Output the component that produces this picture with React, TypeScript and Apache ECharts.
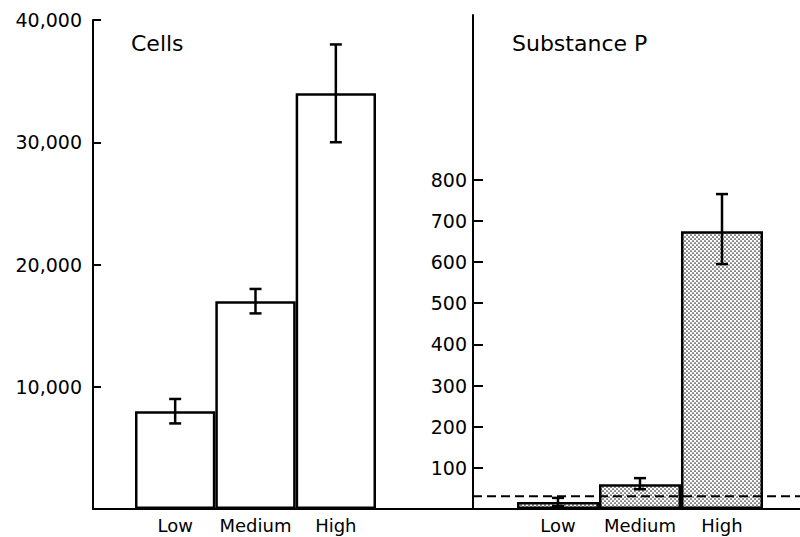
import React, { useEffect, useRef } from "react";
import * as echarts from "echarts";

const categories = ["Low", "Medium", "High"];
const cellsMean = [8000, 17000, 34000];
const cellsLow = [7000, 16000, 30000];
const cellsHigh = [9000, 18000, 38000];
const spMean = [17, 60, 675];
const spLow = [7, 48, 595];
const spHigh = [27, 75, 765];
const spThreshold = 31;
const cellsTicks = [10000, 20000, 30000, 40000];
const spTicks = [100, 200, 300, 400, 500, 600, 700, 800];
const titles = ["Cells", "Substance P"];

const FONT = "DejaVu Sans";

function makePattern() {
  const c = document.createElement("canvas");
  c.width = 4;
  c.height = 4;
  const ctx = c.getContext("2d")!;
  ctx.fillStyle = "#ffffff";
  ctx.fillRect(0, 0, 4, 4);
  ctx.fillStyle = "#2a2a2a";
  ctx.beginPath();
  ctx.arc(1, 1, 0.85, 0, Math.PI * 2);
  ctx.fill();
  ctx.beginPath();
  ctx.arc(3, 3, 0.85, 0, Math.PI * 2);
  ctx.fill();
  return { image: c, repeat: "repeat", imageWidth: 4, imageHeight: 4 } as any;
}

function errorRender(params: any, api: any) {
  const x = api.value(0);
  const lo = api.coord([x, api.value(1)]);
  const hi = api.coord([x, api.value(2)]);
  const w = 6;
  const st = { stroke: "#000", lineWidth: 2.5 };
  return {
    type: "group",
    children: [
      { type: "line", shape: { x1: lo[0], y1: lo[1], x2: hi[0], y2: hi[1] }, style: st },
      { type: "line", shape: { x1: lo[0] - w, y1: lo[1], x2: lo[0] + w, y2: lo[1] }, style: st },
      { type: "line", shape: { x1: hi[0] - w, y1: hi[1], x2: hi[0] + w, y2: hi[1] }, style: st },
    ],
  };
}

export default function App() {
  const ref = useRef<HTMLDivElement>(null);
  useEffect(() => {
    if (!ref.current) return;
    const chart = echarts.init(ref.current, null, { renderer: "svg" });
    const pattern = makePattern();
    const labelStyle = { color: "#000", fontFamily: FONT, fontSize: 18 };
    const titleStyle = { fontFamily: FONT, fontSize: 22, fontWeight: "normal", color: "#000" };
    chart.setOption({
      animation: false,
      backgroundColor: "#fff",
      title: [
        { text: titles[0], left: 126, top: 27, textStyle: titleStyle },
        { text: titles[1], left: 507, top: 27, textStyle: titleStyle },
      ],
      grid: [
        { left: 93, right: 0, top: 20, height: 489 },
        { left: 135, width: 241, top: 20, height: 489 },
        { left: 517, width: 246, top: 15, height: 494 },
        { left: 473, right: 0, top: 15, height: 494 },
      ],
      xAxis: [
        { gridIndex: 0, type: "value", min: 0, max: 1, axisLine: { show: true, lineStyle: { color: "#000", width: 2 } }, axisTick: { show: false }, axisLabel: { show: false }, splitLine: { show: false } },
        { gridIndex: 1, type: "category", data: categories, axisLine: { show: false }, axisTick: { show: false }, axisLabel: { ...labelStyle, margin: 7, interval: 0 } },
        { gridIndex: 2, type: "category", data: categories, axisLine: { show: false }, axisTick: { show: false }, axisLabel: { ...labelStyle, margin: 7, interval: 0 } },
        { gridIndex: 3, type: "value", min: 0, max: 1, show: false },
      ],
      yAxis: [
        { gridIndex: 0, type: "value", min: 0, max: 1, show: false },
        {
          gridIndex: 1,
          type: "value",
          min: 0,
          max: 40000,
          interval: 10000,
          offset: 42,
          axisLine: { show: true, lineStyle: { color: "#000", width: 2 } },
          axisTick: { show: true, inside: true, length: 8, lineStyle: { color: "#000", width: 2 }, customValues: cellsTicks },
          axisLabel: { ...labelStyle, fontSize: 19, margin: 11, customValues: cellsTicks, formatter: (v: number) => v.toLocaleString("en-US") },
          splitLine: { show: false },
        },
        {
          gridIndex: 2,
          type: "value",
          min: 0,
          max: 1200,
          interval: 100,
          offset: 44,
          axisLine: { show: true, lineStyle: { color: "#000", width: 2 } },
          axisTick: { show: true, inside: true, length: 10, lineStyle: { color: "#000", width: 2 }, customValues: spTicks },
          axisLabel: { ...labelStyle, fontSize: 19, margin: 6, customValues: spTicks },
          splitLine: { show: false },
        },
        { gridIndex: 3, type: "value", min: 0, max: 1200, show: false },
      ],
      series: [
        {
          type: "bar",
          xAxisIndex: 1,
          yAxisIndex: 1,
          data: cellsMean,
          barWidth: "100%",
          itemStyle: { color: "#fff", borderColor: "#000", borderWidth: 2.5 },
        },
        {
          type: "custom",
          xAxisIndex: 1,
          yAxisIndex: 1,
          renderItem: errorRender,
          encode: { x: 0, y: [1, 2] },
          data: categories.map((_, i) => [i, cellsLow[i], cellsHigh[i]]),
          z: 5,
        },
        {
          type: "bar",
          xAxisIndex: 2,
          yAxisIndex: 2,
          data: spMean,
          barWidth: "100%",
          itemStyle: { color: pattern, borderColor: "#000", borderWidth: 2.5 },
        },
        {
          type: "custom",
          xAxisIndex: 2,
          yAxisIndex: 2,
          renderItem: errorRender,
          encode: { x: 0, y: [1, 2] },
          data: categories.map((_, i) => [i, spLow[i], spHigh[i]]),
          z: 5,
        },
        {
          type: "line",
          xAxisIndex: 3,
          yAxisIndex: 3,
          data: [[0, spThreshold], [1, spThreshold]],
          symbol: "none",
          lineStyle: { color: "#000", width: 2, type: [9, 5] },
          z: 6,
        },
      ],
    });
    return () => chart.dispose();
  }, []);
  return <div ref={ref} style={{ position: "absolute", left: 0, top: 0, width: 800, height: 537 }} />;
}
